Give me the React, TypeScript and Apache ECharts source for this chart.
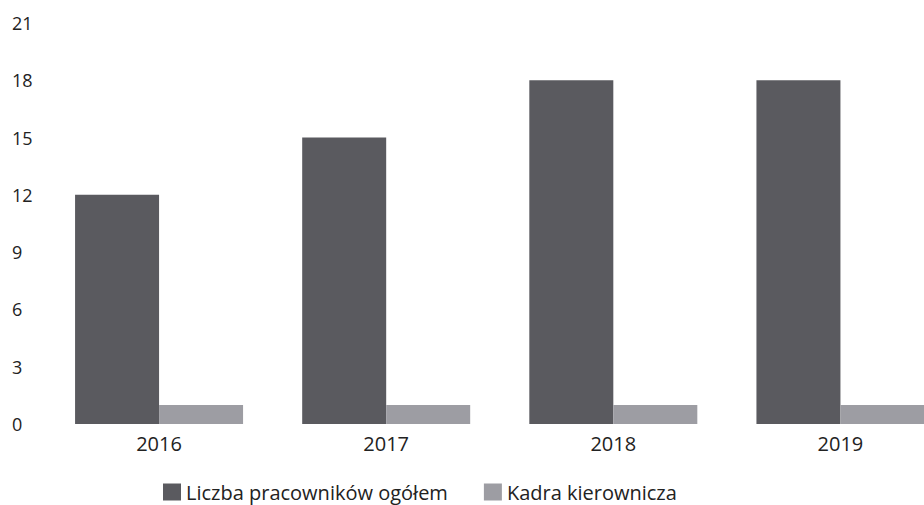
import React, { useEffect, useRef } from "react";
import * as echarts from "echarts";

const categories = ["2016", "2017", "2018", "2019"];
const seriesNames = ["Liczba pracowników ogółem", "Kadra kierownicza"];
const totalEmployees = [12, 15, 18, 18];
const management = [1, 1, 1, 1];
const yTicks = { min: 0, max: 21, interval: 3 };

export default function App() {
  const ref = useRef<HTMLDivElement>(null);
  useEffect(() => {
    if (!ref.current) return;
    const chart = echarts.init(ref.current, null, { renderer: "svg" });
    const font = "'Open Sans', 'Noto Sans', sans-serif";
    chart.setOption({
      animation: false,
      backgroundColor: "#ffffff",
      textStyle: { fontFamily: font },
      grid: { left: 45.5, right: 0, top: 23, bottom: 81, containLabel: false },
      legend: {
        left: 158,
        top: 477,
        itemWidth: 18,
        itemHeight: 17,
        itemGap: 36,
        icon: "rect",
        textStyle: { fontSize: 20, color: "#222", fontFamily: font },
        data: seriesNames,
      },
      xAxis: {
        type: "category",
        data: categories,
        axisLine: { show: false },
        axisTick: { show: false },
        axisLabel: { fontSize: 20, color: "#222", margin: 9, fontFamily: font },
      },
      yAxis: {
        type: "value",
        min: yTicks.min,
        max: yTicks.max,
        interval: yTicks.interval,
        splitLine: { show: false },
        axisLine: { show: false },
        axisTick: { show: false },
        axisLabel: { fontSize: 18, color: "#222", align: "left", margin: 33.5, fontFamily: font },
      },
      series: [
        {
          name: seriesNames[0],
          type: "bar",
          data: totalEmployees,
          barWidth: 84,
          barGap: "0%",
          itemStyle: { color: "#5a5a5f" },
        },
        {
          name: seriesNames[1],
          type: "bar",
          data: management,
          barWidth: 84,
          barGap: "0%",
          itemStyle: { color: "#9d9da3" },
        },
      ],
    });
    return () => chart.dispose();
  }, []);
  return (
    <div style={{ position: "fixed", left: 0, top: 0, width: 924, height: 505, overflow: "hidden", background: "#fff" }}>
      <div ref={ref} style={{ width: 954, height: 505 }} />
    </div>
  );
}
